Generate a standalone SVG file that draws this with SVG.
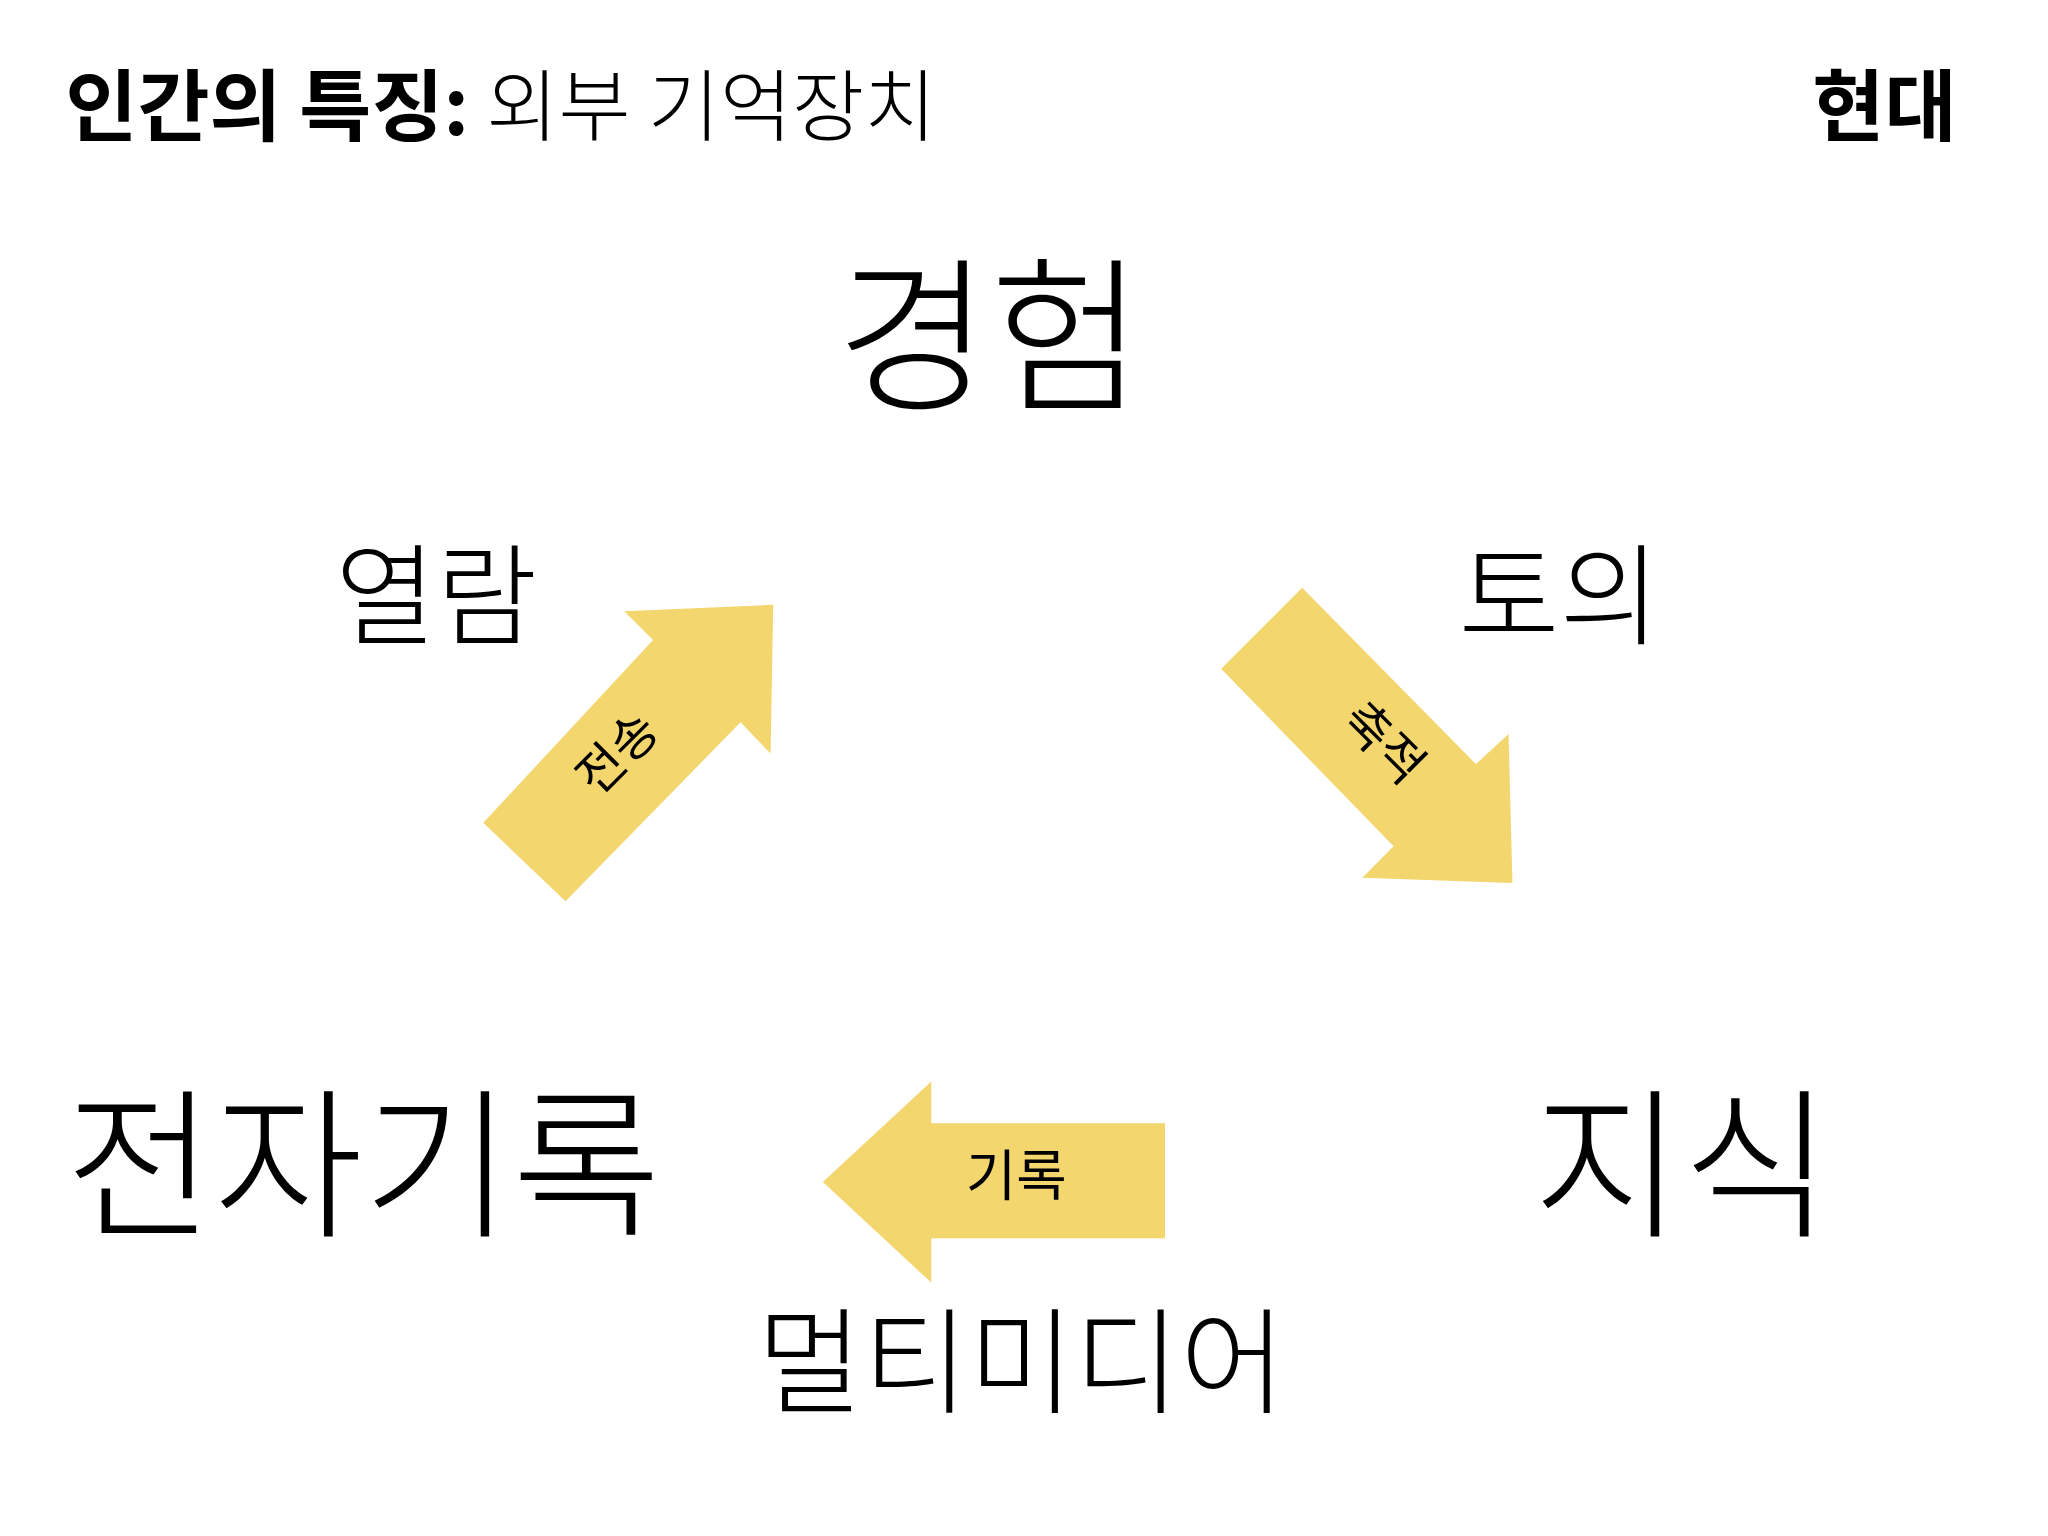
<svg xmlns="http://www.w3.org/2000/svg" width="2048" height="1536" viewBox="0 0 2048 1536">
<style>
text{font-family:"Noto Sans CJK KR","Noto Sans",sans-serif;fill:#000}
.b{font-weight:700}.l{font-weight:300}.n{font-weight:400}
.arr{fill:#f3d66e}
</style>
<rect width="2048" height="1536" fill="#fff"/>
<g transform="scale(1.3061)">
<g id="title"><text x="50" y="103" font-size="60"><tspan class="b">인간의 특징:</tspan><tspan class="l"> 외부 기억장치</tspan></text></g>
<g id="era"><text class="b" x="1498" y="103" font-size="60" text-anchor="end">현대</text></g>
<g id="n-experience"><text class="l" x="758" y="305" font-size="128" text-anchor="middle">경험</text></g>
<g id="n-browse"><text class="l" x="334" y="487" font-size="84" text-anchor="middle">열람</text></g>
<g id="n-discuss"><text class="l" x="1194" y="487" font-size="84" text-anchor="middle">토의</text></g>
<g id="n-erecord"><text class="l" x="278" y="938" font-size="124" text-anchor="middle">전자기록</text></g>
<g id="n-knowledge"><text class="l" x="1288" y="938" font-size="124" text-anchor="middle">지식</text></g>
<g id="n-multimedia"><text class="l" x="782" y="1075" font-size="88" text-anchor="middle">멀티미디어</text></g>
<g id="connectors">
<polygon class="arr" points="370,630 500,490 478,468 592,463 590,577 567,553 433,690"/>
<text class="n" font-size="38" text-anchor="middle" transform="translate(482,586) rotate(-45)">전송</text>
<polygon class="arr" points="935,512 997,450 1130,585 1155,562 1158,676 1043,672 1067,648"/>
<text class="n" font-size="38" text-anchor="middle" transform="translate(1050,578) rotate(45)">축적</text>
<polygon class="arr" points="892,860 713,860 713,828 630,905 713,982 713,948 892,948"/>
<text class="n" font-size="42" text-anchor="middle" x="778" y="915">기록</text>
</g>
</g>
</svg>
